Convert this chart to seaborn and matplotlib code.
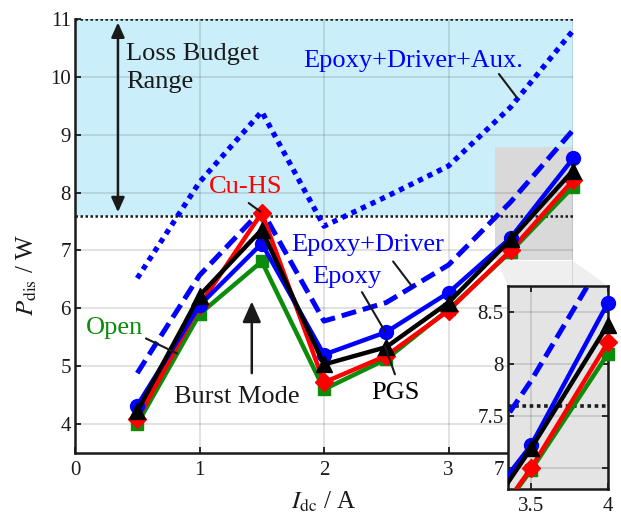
import numpy as np
import pandas as pd
import matplotlib
matplotlib.use("Agg")
import matplotlib.pyplot as plt
import seaborn as sns
from matplotlib.patches import Rectangle, Polygon

# ---------------- data ----------------
i_dc = [0.5, 1.0, 1.5, 2.0, 2.5, 3.0, 3.5, 4.0]
p_open = [4.00, 5.90, 6.81, 4.60, 5.12, 5.98, 6.98, 8.10]
p_cuhs = [4.08, 6.05, 7.65, 4.72, 5.18, 5.96, 7.00, 8.21]
p_epoxy = [4.32, 6.05, 7.12, 5.20, 5.59, 6.27, 7.22, 8.59]
p_pgs = [4.22, 6.22, 7.36, 5.03, 5.33, 6.10, 7.19, 8.38]
p_epoxy_drv = [4.88, 6.57, 7.70, 5.78, 6.10, 6.75, 7.84, 9.08]
p_epoxy_drv_aux = [6.52, 8.18, 9.40, 7.42, 7.93, 8.46, 9.48, 10.80]
loss_budget = [7.6, 11.0]

x_ticks = [0, 1, 2, 3, 4]
y_ticks = [4, 5, 6, 7, 8, 9, 10, 11]
inset_x_ticks = [3.5, 4.0]
inset_x_labels = ["3.5", "4"]
inset_y_ticks = [7.0, 7.5, 8.0, 8.5]
inset_y_labels = ["7", "7.5", "8", "8.5"]

# ---------------- style ----------------
sns.set_theme(style="white")
plt.rcParams["font.family"] = ["Liberation Serif", "DejaVu Serif"]
plt.rcParams["mathtext.fontset"] = "stix"

BLUE = "#0000ff"
RED = "#ff0000"
GREEN = "#0b8c0b"
BLACK = "#000000"
CYAN = "#caeffb"

W, H = 621, 515
fig = plt.figure(figsize=(W / 100, H / 100), dpi=100)
ax = fig.add_axes([75 / W, 1 - 453 / H, 498 / W, 434 / H])

# loss budget region
ax.axhspan(loss_budget[0], loss_budget[1], color=CYAN, lw=0, zorder=0.1)
for yv in loss_budget:
    ax.axhline(yv, color="k", lw=1.8, ls=(0, (1, 1)), zorder=1.2)

# zoom rectangle
ax.add_patch(Rectangle((3.37, 6.84), 0.63, 1.94, facecolor="#d9d9d9",
                       edgecolor="none", zorder=0.3))
# connector to inset
conn = Polygon([(497 / W, 1 - 261 / H), (573 / W, 1 - 261 / H),
                (608 / W, 1 - 286 / H), (508 / W, 1 - 286 / H)],
               closed=True, transform=fig.transFigure, facecolor="#efefef",
               edgecolor="none", zorder=0.3, clip_on=False)
ax.add_patch(conn)

dashed = (0, (3.0, 1.4))
dotted = (0, (1, 1))

solid_series = [
    (p_open, GREEN, "s", 8.5),
    (p_cuhs, RED, "D", 9),
    (p_epoxy, BLUE, "o", 10),
    (p_pgs, BLACK, "^", 12),
]


def draw_series(a, clip, zoom=False):
    sns.lineplot(x=i_dc, y=p_epoxy_drv_aux, ax=a, color=BLUE, lw=3.8,
                 linestyle=dotted, clip_on=clip, zorder=2)
    sns.lineplot(x=i_dc, y=p_epoxy_drv, ax=a, color=BLUE, lw=3.6,
                 linestyle=dashed, clip_on=clip, zorder=2.1)
    for k, (vals, c, m, ms) in enumerate(solid_series):
        if not zoom:
            sns.lineplot(x=i_dc, y=vals, ax=a, color=c, lw=3.2, marker=m,
                         markersize=ms, markeredgecolor=c, markeredgewidth=1,
                         clip_on=False, zorder=3 + k)
        else:
            sns.lineplot(x=i_dc, y=vals, ax=a, color=c, lw=3.2,
                         clip_on=True, zorder=3 + k)
            xs = [x for x in i_dc if x >= 3.5]
            ys = [v for x, v in zip(i_dc, vals) if x >= 3.5]
            sns.lineplot(x=xs, y=ys, ax=a, color=c, linestyle="none",
                         marker=m, markersize=ms, markeredgecolor=c,
                         markeredgewidth=1, clip_on=False, zorder=3 + k)


draw_series(ax, clip=False)

ax.set_xlim(0, 4)
ax.set_ylim(3.5, 11)
ax.set_xticks(x_ticks)
ax.set_yticks(y_ticks)
ax.set_xticklabels([str(t) for t in x_ticks])
ax.set_yticklabels([str(t) for t in y_ticks])
ax.grid(True, color="#262626", alpha=0.15, lw=1.3)
ax.set_axisbelow(True)
for s in ["top", "right"]:
    ax.spines[s].set_visible(False)
for s in ["left", "bottom"]:
    ax.spines[s].set_color("k")
    ax.spines[s].set_linewidth(1.8)
ax.tick_params(direction="in", length=4, width=1.3, labelsize=15,
               colors="k", pad=3, left=True, bottom=True)
ax.tick_params(axis="x", pad=6)

ax.set_xlabel(r"$I_{\mathrm{dc}}$ / A", fontsize=18, color="k")
ax.set_ylabel(r"$P_{\mathrm{dis}}$ / W", fontsize=18, color="k")
ax.xaxis.set_label_coords(0.5, -0.085)
ax.yaxis.set_label_coords(-0.072, 0.41)

# ---------------- annotations ----------------
FS = 19
ax.annotate("", xy=(0.345, 10.94), xytext=(0.345, 7.66),
            arrowprops=dict(arrowstyle="<|-|>,head_length=0.4,head_width=0.18",
                            color="k", lw=1.8, mutation_scale=22,
                            shrinkA=0, shrinkB=0), zorder=6)
ax.text(0.41, 10.15, "Loss Budget\nRange", fontsize=FS, ha="left",
        va="center", linespacing=1.32, color="k", zorder=6)

ax.annotate("", xy=(1.42, 6.12), xytext=(1.42, 4.88),
            arrowprops=dict(arrowstyle="-|>,head_length=0.45,head_width=0.2",
                            color="k", lw=1.8, mutation_scale=28,
                            shrinkA=0, shrinkB=0), zorder=6)
ax.text(1.30, 4.47, "Burst Mode", fontsize=FS, ha="center", va="center",
        color="k", zorder=6)


def label(txt, xy_text, p1, p2, color):
    ax.text(xy_text[0], xy_text[1], txt, fontsize=FS, ha="center",
            va="center", color=color, zorder=8)
    ax.annotate("", xy=p2, xytext=p1,
                arrowprops=dict(arrowstyle="-", color="k", lw=1.5,
                                shrinkA=0, shrinkB=0), zorder=8)


label("Cu-HS", (1.37, 8.09), (1.395, 7.82), (1.49, 7.67), RED)
label("Epoxy+Driver+Aux.", (2.715, 10.28), (3.405, 10.05), (3.55, 9.64), BLUE)
label("Epoxy+Driver", (2.353, 7.09), (2.555, 6.81), (2.707, 6.38), BLUE)
label("Epoxy", (2.186, 6.55), (2.305, 6.28), (2.49, 5.60), BLUE)
label("PGS", (2.57, 4.53), (2.49, 5.34), (2.57, 4.86), BLACK)
label("Open", (0.32, 5.66), (0.57, 5.48), (0.82, 5.22), GREEN)

# ---------------- inset ----------------
axin = fig.add_axes([508 / W, 1 - 489 / H, 100 / W, 203 / H])
axin.set_facecolor("#e4e4e4")
axin.axhline(loss_budget[0], color="k", lw=2.6, ls=(0, (1, 1)), zorder=1.2)
draw_series(axin, clip=True, zoom=True)
axin.set_xlim(3.35, 4.0)
axin.set_ylim(6.8, 8.75)
axin.set_xticks(inset_x_ticks)
axin.set_xticklabels(inset_x_labels)
axin.set_yticks(inset_y_ticks)
axin.set_yticklabels(inset_y_labels)
axin.grid(True, color="#262626", alpha=0.15, lw=1.3)
axin.set_axisbelow(True)
for s in axin.spines.values():
    s.set_visible(True)
    s.set_color("k")
    s.set_linewidth(1.8)
axin.tick_params(direction="in", length=4, width=1.3, labelsize=15,
                 colors="k", pad=3, top=True, right=True, left=True,
                 bottom=True)
axin.tick_params(axis="x", pad=6)
axin.set_xlabel("")
axin.set_ylabel("")

fig.savefig("out.png", dpi=100)
